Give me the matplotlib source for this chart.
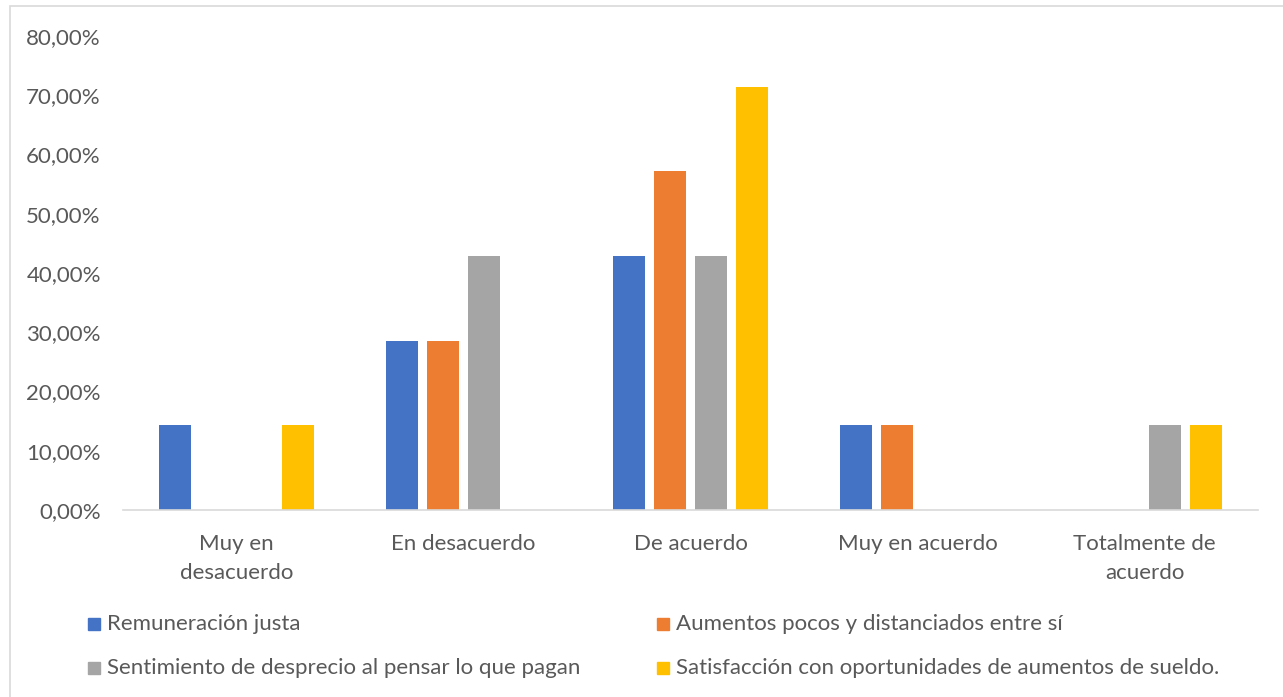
import matplotlib
matplotlib.use("Agg")
import matplotlib.pyplot as plt
from matplotlib.patches import Rectangle
import numpy as np

plt.rcParams['font.family'] = ['Lato', 'DejaVu Sans']

categories = ["Muy en\ndesacuerdo", "En desacuerdo", "De acuerdo",
              "Muy en acuerdo", "Totalmente de\nacuerdo"]
series_names = ["Remuneración justa",
                "Aumentos pocos y distanciados entre sí",
                "Sentimiento de desprecio al pensar lo que pagan",
                "Satisfacción con oportunidades de aumentos de sueldo."]
remuneracion = [14.29, 28.57, 42.86, 14.29, 0.0]
aumentos = [0.0, 28.57, 57.14, 14.29, 0.0]
desprecio = [0.0, 42.86, 42.86, 0.0, 14.29]
satisfaccion = [14.29, 0.0, 71.43, 0.0, 14.29]
values = [remuneracion, aumentos, desprecio, satisfaccion]
colors = ["#4472C4", "#ED7D31", "#A5A5A5", "#FFC000"]
yticks = [0, 10, 20, 30, 40, 50, 60, 70, 80]

W, H = 1283, 697
fig = plt.figure(figsize=(W / 100, H / 100), dpi=100)
ax = fig.add_axes([123 / W, 1 - 510 / H, (1258 - 123) / W, (510 - 36) / H])

x = np.arange(len(categories))
bar_w = 0.141
step = 0.1806
for i, (vals, col) in enumerate(zip(values, colors)):
    ax.bar(x + (i - 1.5) * step, vals, width=bar_w, color=col, zorder=2)

ax.set_xlim(-0.5, len(categories) - 0.5)
ax.set_ylim(0, 80)
ax.set_yticks(yticks)
ax.set_yticklabels([f"{v:.2f}%".replace(".", ",") for v in yticks])
ax.set_xticks(x)
ax.set_xticklabels(categories, linespacing=1.6)

for s in ["top", "right", "left"]:
    ax.spines[s].set_visible(False)
ax.spines["bottom"].set_color("#D9D9D9")
ax.spines["bottom"].set_linewidth(1.2)
ax.tick_params(axis="both", length=0, labelsize=16, colors="#595959")
ax.tick_params(axis="y", pad=16)
ax.tick_params(axis="x", pad=17)

# legend laid out in two rows, two columns
leg_pos = [(88, 624), (657, 624), (88, 668), (657, 668)]
for (lx, ly), name, col in zip(leg_pos, series_names, colors):
    fig.add_artist(Rectangle((lx / W, 1 - (ly + 6) / H), 12 / W, 12 / H,
                             transform=fig.transFigure, color=col))
    fig.text((lx + 19) / W, 1 - ly / H, name, fontsize=16,
             color="#595959", va="center", ha="left")

# chart outline
fig.add_artist(Rectangle((10 / W, -0.01), 1.02, 1 - 6 / H + 0.01,
                         transform=fig.transFigure, fill=False,
                         edgecolor="#D9D9D9", linewidth=1.2))

fig.savefig("out.png", dpi=100)
